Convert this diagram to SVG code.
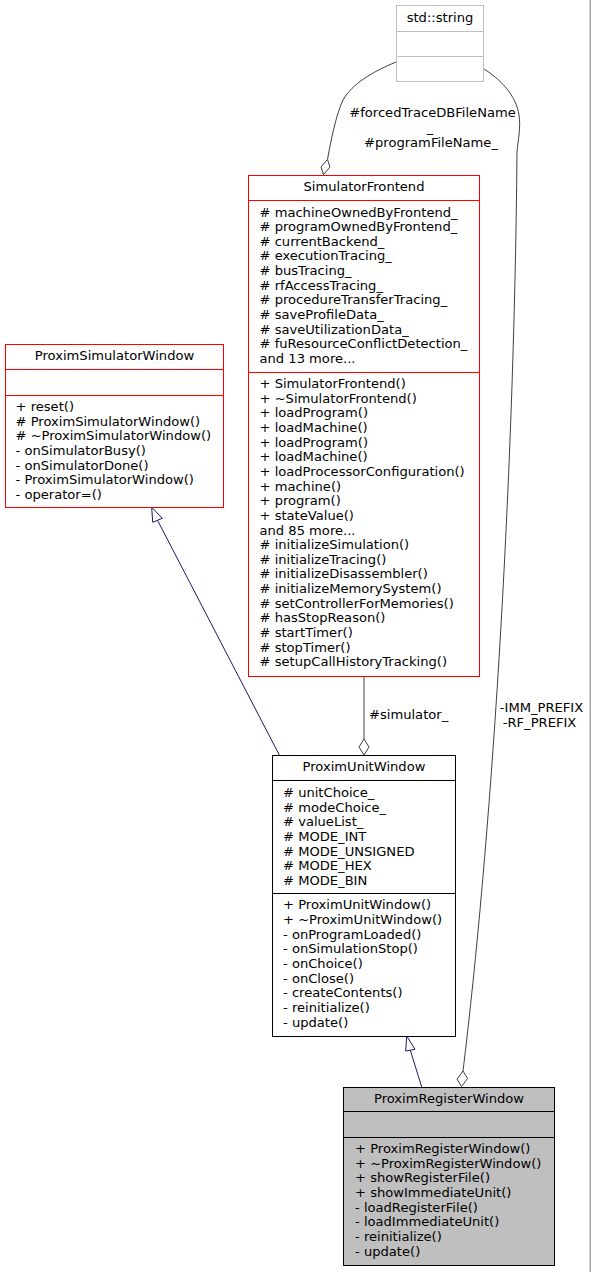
<svg xmlns="http://www.w3.org/2000/svg" width="591" height="1272" viewBox="0 0 591 1272">
<style>
text{font-family:"DejaVu Sans","Liberation Sans",sans-serif;font-size:13.1px;fill:#000}
.t{text-anchor:middle}
.box{fill:#fff;stroke-width:1}
.red{stroke:#ff0000}
.blk{stroke:#000}
.gry{stroke:#bfbfbf}
.div{stroke-width:1;fill:none}
.agg{fill:none;stroke:#404040;stroke-width:1}
.dia{fill:#fff;stroke:#404040;stroke-width:1}
.inh{fill:none;stroke:#191970;stroke-width:1}
.tri{fill:#fff;stroke:#191970;stroke-width:1}
</style>
<rect x="0" y="0" width="591" height="1272" fill="#fff"/>
<rect x="589.5" y="0" width="1.5" height="1272" fill="#a6a6a6"/>

<g id="connectors">
  <path class="agg" d="M396,62 C372,72 352,84 343,100 C336,115 331,140 327.5,159.5"/>
  <polygon class="dia" points="327.5,159.5 330,167 323.5,174.5 321,167"/>
  <text class="t" x="432.5" y="117">#forcedTraceDBFileName</text>
  <text class="t" x="430" y="131.5">_</text>
  <text class="t" x="431" y="147">#programFileName_</text>

  <path class="agg" d="M484,69 C500,79 516,95 519,115 C521,128 518,140 517,152 C514,500 490,850 463,1071"/>
  <polygon class="dia" points="463,1071 467.5,1078.5 461.5,1086.5 457,1079"/>
  <text class="t" x="541.5" y="712">-IMM_PREFIX</text>
  <text class="t" x="539.5" y="727">-RF_PREFIX</text>

  <path class="agg" d="M364,677 L364,739"/>
  <polygon class="dia" points="364,739 369,747 364,755 359,747"/>
  <text x="369" y="719">#simulator_</text>

  <path class="inh" d="M279.3,755 L157.5,520.3"/>
  <polygon class="tri" points="151.7,507.3 162.3,518.3 152.7,522.3"/>

  <path class="inh" d="M421.7,1087 L410.3,1050.2"/>
  <polygon class="tri" points="406.7,1036 415,1049.3 405.7,1051"/>
</g>

<g id="std_string">
  <rect class="box gry" x="396.5" y="5.5" width="87" height="76"/>
  <path class="div gry" d="M396.5,31.5 H483.5 M396.5,56.5 H483.5"/>
  <text class="t" x="440" y="21.5">std::string</text>
</g>

<g id="SimulatorFrontend">
  <rect class="box red" x="248.5" y="175.5" width="231" height="501"/>
  <path class="div red" d="M248.5,200.5 H479.5 M248.5,372.5 H479.5"/>
  <text class="t" x="364" y="191">SimulatorFrontend</text>
  <text x="259.5" y="216.5"># machineOwnedByFrontend_</text>
  <text x="259.5" y="231.15"># programOwnedByFrontend_</text>
  <text x="259.5" y="245.8"># currentBackend_</text>
  <text x="259.5" y="260.45"># executionTracing_</text>
  <text x="259.5" y="275.1"># busTracing_</text>
  <text x="259.5" y="289.75"># rfAccessTracing_</text>
  <text x="259.5" y="304.4"># procedureTransferTracing_</text>
  <text x="259.5" y="319.05"># saveProfileData_</text>
  <text x="259.5" y="333.7"># saveUtilizationData_</text>
  <text x="259.5" y="348.35"># fuResourceConflictDetection_</text>
  <text x="259.5" y="363">and 13 more...</text>
  <text x="259.5" y="388">+ SimulatorFrontend()</text>
  <text x="259.5" y="402.65">+ ~SimulatorFrontend()</text>
  <text x="259.5" y="417.3">+ loadProgram()</text>
  <text x="259.5" y="431.95">+ loadMachine()</text>
  <text x="259.5" y="446.6">+ loadProgram()</text>
  <text x="259.5" y="461.25">+ loadMachine()</text>
  <text x="259.5" y="475.9">+ loadProcessorConfiguration()</text>
  <text x="259.5" y="490.55">+ machine()</text>
  <text x="259.5" y="505.2">+ program()</text>
  <text x="259.5" y="519.85">+ stateValue()</text>
  <text x="259.5" y="534.5">and 85 more...</text>
  <text x="259.5" y="549.15"># initializeSimulation()</text>
  <text x="259.5" y="563.8"># initializeTracing()</text>
  <text x="259.5" y="578.45"># initializeDisassembler()</text>
  <text x="259.5" y="593.1"># initializeMemorySystem()</text>
  <text x="259.5" y="607.75"># setControllerForMemories()</text>
  <text x="259.5" y="622.4"># hasStopReason()</text>
  <text x="259.5" y="637.05"># startTimer()</text>
  <text x="259.5" y="651.7"># stopTimer()</text>
  <text x="259.5" y="666.35"># setupCallHistoryTracking()</text>
</g>

<g id="ProximSimulatorWindow">
  <rect class="box red" x="5.5" y="344.5" width="218" height="163"/>
  <path class="div red" d="M5.5,369.5 H223.5 M5.5,395.5 H223.5"/>
  <text class="t" x="114.5" y="359.5">ProximSimulatorWindow</text>
  <text x="15.5" y="411">+ reset()</text>
  <text x="15.5" y="425.65"># ProximSimulatorWindow()</text>
  <text x="15.5" y="440.3"># ~ProximSimulatorWindow()</text>
  <text x="15.5" y="454.95">- onSimulatorBusy()</text>
  <text x="15.5" y="469.6">- onSimulatorDone()</text>
  <text x="15.5" y="484.25">- ProximSimulatorWindow()</text>
  <text x="15.5" y="498.9">- operator=()</text>
</g>

<g id="ProximUnitWindow">
  <rect class="box blk" x="272.5" y="755.5" width="183" height="281"/>
  <path class="div blk" d="M272.5,780.5 H455.5 M272.5,893.5 H455.5"/>
  <text class="t" x="364" y="770.8">ProximUnitWindow</text>
  <text x="283" y="797"># unitChoice_</text>
  <text x="283" y="811.65"># modeChoice_</text>
  <text x="283" y="826.3"># valueList_</text>
  <text x="283" y="840.95"># MODE_INT</text>
  <text x="283" y="855.6"># MODE_UNSIGNED</text>
  <text x="283" y="870.25"># MODE_HEX</text>
  <text x="283" y="884.9"># MODE_BIN</text>
  <text x="283" y="909.3">+ ProximUnitWindow()</text>
  <text x="283" y="923.95">+ ~ProximUnitWindow()</text>
  <text x="283" y="938.6">- onProgramLoaded()</text>
  <text x="283" y="953.25">- onSimulationStop()</text>
  <text x="283" y="967.9">- onChoice()</text>
  <text x="283" y="982.55">- onClose()</text>
  <text x="283" y="997.2">- createContents()</text>
  <text x="283" y="1011.85">- reinitialize()</text>
  <text x="283" y="1026.5">- update()</text>
</g>

<g id="ProximRegisterWindow">
  <rect x="343.5" y="1087.5" width="211" height="178" fill="#bfbfbf" stroke="#000" stroke-width="1"/>
  <path class="div blk" d="M343.5,1111.5 H554.5 M343.5,1137.5 H554.5"/>
  <text class="t" x="449" y="1102.8">ProximRegisterWindow</text>
  <text x="355" y="1153">+ ProximRegisterWindow()</text>
  <text x="355" y="1167.65">+ ~ProximRegisterWindow()</text>
  <text x="355" y="1182.3">+ showRegisterFile()</text>
  <text x="355" y="1196.95">+ showImmediateUnit()</text>
  <text x="355" y="1211.6">- loadRegisterFile()</text>
  <text x="355" y="1226.25">- loadImmediateUnit()</text>
  <text x="355" y="1240.9">- reinitialize()</text>
  <text x="355" y="1255.55">- update()</text>
</g>
</svg>
